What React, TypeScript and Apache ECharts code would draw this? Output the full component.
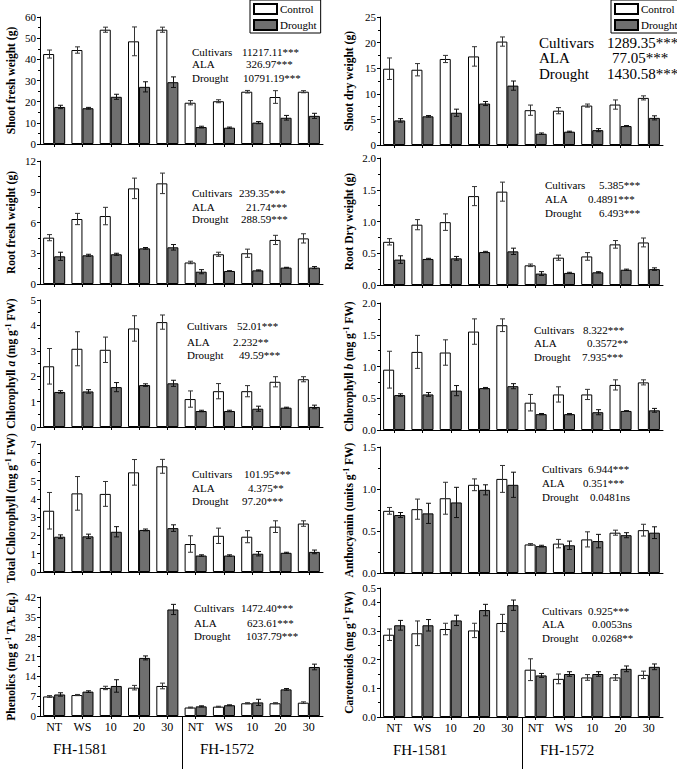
import React, { useEffect, useRef } from "react";
import * as echarts from "echarts";

const categories = ["NT", "WS", "10", "20", "30", "NT", "WS", "10", "20", "30"];
const cultivars = ["FH-1581", "FH-1572"];
const seriesNames = ["Control", "Drought"];
const statLabels = ["Cultivars", "ALA", "Drought"];

// Shoot fresh weight (g)
const shootFreshCtrl = [42.5, 44.4, 54.0, 48.5, 54.0, 19.5, 20.2, 24.7, 22.2, 24.7];
const shootFreshCtrlErr = [1.9, 1.5, 1.2, 6.8, 1.2, 1.0, 0.7, 0.6, 3.0, 0.5];
const shootFreshDr = [17.5, 16.9, 22.3, 27.0, 29.2, 8.0, 7.7, 10.1, 12.4, 13.3];
const shootFreshDrErr = [0.8, 0.4, 1.2, 2.4, 2.5, 0.4, 0.3, 0.5, 1.1, 1.2];
const shootFreshStats = ["11217.11***", "326.97***", "10791.19***"];

// Root fresh weight (g)
const rootFreshCtrl = [4.52, 6.34, 6.63, 9.33, 9.82, 2.1, 2.9, 3.0, 4.3, 4.45];
const rootFreshCtrlErr = [0.3, 0.55, 0.85, 1.0, 1.0, 0.12, 0.2, 0.4, 0.45, 0.45];
const rootFreshDr = [2.7, 2.8, 2.9, 3.48, 3.58, 1.2, 1.27, 1.33, 1.6, 1.6];
const rootFreshDrErr = [0.4, 0.1, 0.1, 0.08, 0.27, 0.2, 0.03, 0.05, 0.03, 0.1];
const rootFreshStats = ["239.35***", "21.74***", "288.59***"];

// Chlorophyll a
const chlACtrl = [2.39, 3.08, 3.04, 3.88, 4.13, 1.1, 1.41, 1.41, 1.78, 1.88];
const chlACtrlErr = [0.7, 0.67, 0.5, 0.5, 0.28, 0.32, 0.3, 0.22, 0.2, 0.1];
const chlADr = [1.38, 1.4, 1.57, 1.65, 1.72, 0.63, 0.63, 0.72, 0.76, 0.79];
const chlADrErr = [0.05, 0.07, 0.18, 0.05, 0.12, 0.03, 0.03, 0.1, 0.02, 0.07];
const chlAStats = ["52.01***", "2.232**", "49.59***"];

// Total chlorophyll
const totalChlCtrl = [3.35, 4.3, 4.27, 5.45, 5.78, 1.53, 1.98, 1.93, 2.48, 2.65];
const totalChlCtrlErr = [1.0, 0.92, 0.68, 0.7, 0.38, 0.45, 0.42, 0.33, 0.32, 0.15];
const totalChlDr = [1.93, 1.95, 2.2, 2.3, 2.4, 0.9, 0.9, 1.0, 1.05, 1.1];
const totalChlDrErr = [0.1, 0.12, 0.28, 0.05, 0.18, 0.04, 0.04, 0.12, 0.03, 0.1];
const totalChlStats = ["101.95***", "4.375**", "97.20***"];

// Phenolics
const phenCtrl = [6.9, 7.4, 9.9, 10.0, 10.6, 3.0, 3.3, 4.5, 4.5, 4.7];
const phenCtrlErr = [0.3, 0.2, 0.6, 0.8, 1.0, 0.15, 0.15, 0.2, 0.2, 0.3];
const phenDr = [7.6, 8.6, 10.6, 20.5, 37.6, 3.4, 3.8, 4.8, 9.4, 17.3];
const phenDrErr = [0.6, 0.3, 2.2, 0.7, 1.8, 0.2, 0.15, 1.1, 0.3, 1.0];
const phenStats = ["1472.40***", "623.61***", "1037.79***"];

// Shoot dry weight (g)
const shootDryCtrl = [14.9, 14.7, 16.8, 17.3, 20.2, 6.8, 6.7, 7.7, 7.9, 9.2];
const shootDryCtrlErr = [2.1, 1.2, 0.7, 1.9, 0.9, 1.0, 0.6, 0.3, 0.9, 0.4];
const shootDryDr = [4.8, 5.6, 6.3, 8.1, 11.6, 2.2, 2.6, 2.9, 3.7, 5.3];
const shootDryDrErr = [0.35, 0.15, 0.7, 0.4, 0.9, 0.15, 0.1, 0.3, 0.1, 0.4];
const shootDryStats = ["1289.35***", "77.05***", "1430.58***"];

// Root dry weight (g)
const rootDryCtrl = [0.68, 0.95, 0.99, 1.4, 1.47, 0.31, 0.43, 0.45, 0.64, 0.67];
const rootDryCtrlErr = [0.05, 0.08, 0.13, 0.15, 0.15, 0.02, 0.04, 0.06, 0.06, 0.07];
const rootDryDr = [0.4, 0.41, 0.42, 0.52, 0.53, 0.18, 0.19, 0.2, 0.24, 0.25];
const rootDryDrErr = [0.06, 0.01, 0.03, 0.01, 0.05, 0.03, 0.01, 0.01, 0.01, 0.02];
const rootDryStats = ["5.385***", "0.4891***", "6.493***"];

// Chlorophyll b
const chlBCtrl = [0.95, 1.23, 1.22, 1.55, 1.65, 0.43, 0.56, 0.56, 0.71, 0.75];
const chlBCtrlErr = [0.29, 0.26, 0.2, 0.2, 0.1, 0.13, 0.12, 0.08, 0.08, 0.04];
const chlBDr = [0.55, 0.56, 0.62, 0.66, 0.69, 0.25, 0.25, 0.28, 0.3, 0.31];
const chlBDrErr = [0.02, 0.03, 0.08, 0.01, 0.04, 0.01, 0.01, 0.04, 0.005, 0.03];
const chlBStats = ["8.322***", "0.3572**", "7.935***"];

// Anthocyanin
const anthoCtrl = [0.74, 0.76, 0.89, 1.05, 1.12, 0.34, 0.35, 0.4, 0.48, 0.51];
const anthoCtrlErr = [0.04, 0.12, 0.19, 0.07, 0.16, 0.01, 0.05, 0.09, 0.03, 0.07];
const anthoDr = [0.69, 0.71, 0.84, 0.99, 1.05, 0.32, 0.33, 0.38, 0.45, 0.48];
const anthoDrErr = [0.03, 0.12, 0.18, 0.06, 0.15, 0.01, 0.05, 0.08, 0.03, 0.07];
const anthoStats = ["6.944***", "0.351***", "0.0481ns"];

// Carotenoids
const caroCtrl = [0.287, 0.292, 0.307, 0.302, 0.328, 0.165, 0.133, 0.138, 0.138, 0.147];
const caroCtrlErr = [0.02, 0.043, 0.02, 0.025, 0.03, 0.038, 0.017, 0.01, 0.01, 0.013];
const caroDr = [0.32, 0.32, 0.337, 0.373, 0.39, 0.145, 0.15, 0.15, 0.168, 0.175];
const caroDrErr = [0.017, 0.02, 0.018, 0.02, 0.018, 0.007, 0.008, 0.008, 0.01, 0.01];
const caroStats = ["0.925***", "0.0053ns", "0.0268**"];

const FONT = "Liberation Serif, serif";
const GRAY = "#6f6f6f";
const CAT_GAP = 0.22;

type Panel = {
  col: number;
  top: number;
  height: number;
  max: number;
  interval: number;
  dec: number;
  name: string;
  ctrl: number[];
  ctrlErr: number[];
  dr: number[];
  drErr: number[];
  stats: string[];
  lx: number;
  vx: number[];
  ys: number[];
  fs: number;
};

const panels: Panel[] = [
  { col: 0, top: 17, height: 127, max: 60, interval: 10, dec: 0, name: "{b|Shoot fresh weight (g)}", ctrl: shootFreshCtrl, ctrlErr: shootFreshCtrlErr, dr: shootFreshDr, drErr: shootFreshDrErr, stats: shootFreshStats, lx: 192, vx: [242, 246, 243], ys: [52, 64, 78], fs: 11 },
  { col: 0, top: 161, height: 123, max: 12, interval: 3, dec: 0, name: "{b|Root fresh weight (g)}", ctrl: rootFreshCtrl, ctrlErr: rootFreshCtrlErr, dr: rootFreshDr, drErr: rootFreshDrErr, stats: rootFreshStats, lx: 192, vx: [239, 246, 241], ys: [193, 207, 219], fs: 11 },
  { col: 0, top: 300, height: 127, max: 5, interval: 1, dec: 0, name: "{b|Chlorophyll }{i|a}{b| (mg g}{s|-1}{b| FW)}", ctrl: chlACtrl, ctrlErr: chlACtrlErr, dr: chlADr, drErr: chlADrErr, stats: chlAStats, lx: 187, vx: [237, 233, 239], ys: [326, 342, 355], fs: 11 },
  { col: 0, top: 444, height: 128, max: 7, interval: 1, dec: 0, name: "{b|Total Chlorophyll (mg g}{s|-1}{b| FW)}", ctrl: totalChlCtrl, ctrlErr: totalChlCtrlErr, dr: totalChlDr, drErr: totalChlDrErr, stats: totalChlStats, lx: 192, vx: [244, 248, 242], ys: [474, 488, 501], fs: 11 },
  { col: 0, top: 597, height: 119, max: 42, interval: 7, dec: 0, name: "{b|Phenolics (mg g}{s|-1}{b| TA. Eq.)}", ctrl: phenCtrl, ctrlErr: phenCtrlErr, dr: phenDr, drErr: phenDrErr, stats: phenStats, lx: 194, vx: [241, 247, 246], ys: [608, 623, 636], fs: 11 },
  { col: 1, top: 17, height: 128, max: 25, interval: 5, dec: 0, name: "{b|Shoot dry weight (g)}", ctrl: shootDryCtrl, ctrlErr: shootDryCtrlErr, dr: shootDryDr, drErr: shootDryDrErr, stats: shootDryStats, lx: 539, vx: [607, 612, 607], ys: [43, 58, 74], fs: 15 },
  { col: 1, top: 158, height: 127, max: 2, interval: 0.5, dec: 1, name: "{b|Root Dry weight (g)}", ctrl: rootDryCtrl, ctrlErr: rootDryCtrlErr, dr: rootDryDr, drErr: rootDryDrErr, stats: rootDryStats, lx: 545, vx: [599, 588, 599], ys: [185, 199, 213], fs: 11 },
  { col: 1, top: 303, height: 127, max: 2, interval: 0.5, dec: 1, name: "{b|Chlorophyll }{i|b}{b| (mg g}{s|-1}{b| FW)}", ctrl: chlBCtrl, ctrlErr: chlBCtrlErr, dr: chlBDr, drErr: chlBDrErr, stats: chlBStats, lx: 534, vx: [583, 587, 582], ys: [330, 343, 357], fs: 11 },
  { col: 1, top: 447, height: 126, max: 1.5, interval: 0.5, dec: 1, name: "{b|Anthocyanin (units g}{s|-1}{b| FW)}", ctrl: anthoCtrl, ctrlErr: anthoCtrlErr, dr: anthoDr, drErr: anthoDrErr, stats: anthoStats, lx: 542, vx: [588, 583, 590], ys: [469, 483, 497], fs: 11 },
  { col: 1, top: 588, height: 129, max: 0.45, interval: 0.1, dec: 1, name: "{b|Carotenoids (mg g}{s|-1}{b| FW)}", ctrl: caroCtrl, ctrlErr: caroCtrlErr, dr: caroDr, drErr: caroDrErr, stats: caroStats, lx: 542, vx: [588, 592, 592], ys: [611, 624, 638], fs: 11 },
];

const colLeft = [40, 380];
const colWidth = 283;
const nameGaps = [22, 24];

function errorSeries(idx: number, vals: number[], errs: number[], side: number, color: string) {
  return {
    type: "custom",
    xAxisIndex: idx,
    yAxisIndex: idx,
    z: 5,
    silent: true,
    data: vals.map((v, i) => [i, v, errs[i]]),
    renderItem: (params: any, api: any) => {
      const i = api.value(0);
      const v = api.value(1);
      const e = api.value(2);
      const band = api.size([1, 0])[0];
      const bw = (band * (1 - CAT_GAP)) / 2;
      const c = api.coord([i, v]);
      const x = Math.round(c[0] + (side * bw) / 2) + 0.5;
      const yHi = api.coord([i, v + e])[1];
      const yLo = api.coord([i, v - e])[1];
      const cap = 2.5;
      const st = { stroke: color, lineWidth: 1 };
      return {
        type: "group",
        children: [
          { type: "line", shape: { x1: x, y1: yHi, x2: x, y2: yLo }, style: st },
          { type: "line", shape: { x1: x - cap, y1: yHi, x2: x + cap, y2: yHi }, style: st },
          { type: "line", shape: { x1: x - cap, y1: yLo, x2: x + cap, y2: yLo }, style: st },
        ],
      };
    },
  };
}

export default function App() {
  const ref = useRef<HTMLDivElement>(null);
  useEffect(() => {
    if (!ref.current) return;
    const chart = echarts.init(ref.current, undefined, { renderer: "svg" });

    const grid: any[] = [];
    const xAxis: any[] = [];
    const yAxis: any[] = [];
    const series: any[] = [];
    const graphic: any[] = [];

    panels.forEach((p, idx) => {
      const isBottom = idx === 4 || idx === 9;
      grid.push({ left: colLeft[p.col], top: p.top, width: colWidth, height: p.height, containLabel: false });
      xAxis.push({
        type: "category",
        gridIndex: idx,
        data: categories,
        boundaryGap: true,
        axisLine: { lineStyle: { color: "#000", width: 1 } },
        axisTick: { show: true, alignWithLabel: true, length: 3, lineStyle: { color: "#000" } },
        axisLabel: { show: isBottom, fontFamily: FONT, fontSize: 12, color: "#000", margin: 5 },
        splitLine: { show: false },
      });
      yAxis.push({
        type: "value",
        gridIndex: idx,
        min: 0,
        max: p.max,
        interval: p.interval,
        name: p.name,
        nameLocation: "middle",
        nameGap: nameGaps[p.col],
        nameRotate: 90,
        nameTextStyle: {
          rich: {
            b: { fontFamily: FONT, fontSize: 11.5, fontWeight: "bold", color: "#000", lineHeight: 14 },
            i: { fontFamily: FONT, fontSize: 11.5, fontWeight: "bold", fontStyle: "italic", color: "#000", lineHeight: 14 },
            s: { fontFamily: FONT, fontSize: 8, fontWeight: "bold", color: "#000", lineHeight: 8, verticalAlign: "top" },
          },
        },
        axisLine: { show: true, lineStyle: { color: "#000", width: 1 } },
        axisTick: { show: true, length: 3, lineStyle: { color: "#000" } },
        minorTick: { show: true, splitNumber: 2, length: 2, lineStyle: { color: "#000" } },
        axisLabel: {
          fontFamily: FONT,
          fontSize: 11,
          color: "#000",
          margin: 4,
          formatter: (v: number) => v.toFixed(p.dec),
        },
        splitLine: { show: false },
      });
      series.push({
        name: seriesNames[0],
        type: "bar",
        xAxisIndex: idx,
        yAxisIndex: idx,
        data: p.ctrl,
        barGap: "0%",
        barCategoryGap: CAT_GAP * 100 + "%",
        itemStyle: { color: "#ffffff", borderColor: "#000", borderWidth: 1 },
      });
      series.push({
        name: seriesNames[1],
        type: "bar",
        xAxisIndex: idx,
        yAxisIndex: idx,
        data: p.dr,
        barGap: "0%",
        barCategoryGap: CAT_GAP * 100 + "%",
        itemStyle: { color: GRAY, borderColor: "#000", borderWidth: 1 },
      });
      series.push(errorSeries(idx, p.ctrl, p.ctrlErr, -1, "#333"));
      series.push(errorSeries(idx, p.dr, p.drErr, 1, "#111"));

      p.stats.forEach((s, k) => {
        graphic.push({
          type: "text",
          x: p.lx,
          y: p.ys[k],
          z: 10,
          style: { text: statLabels[k], fontFamily: FONT, fontSize: p.fs, fill: "#000", verticalAlign: "middle", align: "left" },
        });
        graphic.push({
          type: "text",
          x: p.vx[k],
          y: p.ys[k],
          z: 10,
          style: { text: s, fontFamily: FONT, fontSize: p.fs, fill: "#000", verticalAlign: "middle", align: "left" },
        });
      });

      if (isBottom) {
        const left = colLeft[p.col];
        const sepX = Math.round(left + colWidth / 2) + 0.5;
        const bottom = p.top + p.height;
        graphic.push({
          type: "line",
          shape: { x1: sepX, y1: bottom, x2: sepX, y2: 769 },
          style: { stroke: "#000", lineWidth: 1 },
        });
        const lblX = [left + 13, left + 160];
        cultivars.forEach((c, k) => {
          graphic.push({
            type: "text",
            x: lblX[k],
            y: bottom + 33,
            style: { text: c, fontFamily: FONT, fontSize: 15, fill: "#000", verticalAlign: "middle", align: "left" },
          });
        });
      }
    });

    const legendBase = {
      orient: "vertical",
      top: 0,
      itemWidth: 23,
      itemHeight: 10,
      itemGap: 4,
      padding: [3, 4, 2, 3],
      borderColor: "#000",
      borderWidth: 1,
      backgroundColor: "#fff",
      icon: "rect",
      data: seriesNames,
      selectedMode: false,
      textStyle: { fontFamily: FONT, fontSize: 11, color: "#000", padding: [0, 0, 0, -2] },
    };

    chart.setOption({
      animation: false,
      backgroundColor: "#fff",
      grid,
      xAxis,
      yAxis,
      series,
      graphic,
      legend: [
        { ...legendBase, left: 250 },
        { ...legendBase, left: 611 },
      ],
    });

    return () => chart.dispose();
  }, []);

  return <div ref={ref} style={{ position: "absolute", left: 0, top: 0, width: 677, height: 769 }} />;
}
